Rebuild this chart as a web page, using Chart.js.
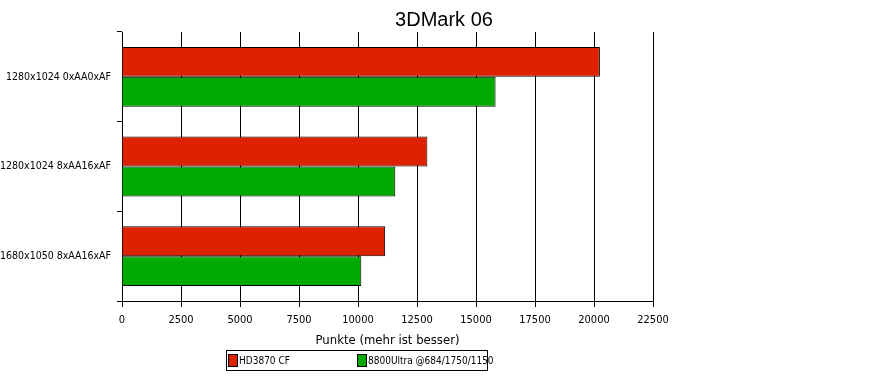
<!DOCTYPE html>
<html>
<head>
<meta charset="utf-8">
<script src="https://cdn.jsdelivr.net/npm/chart.js@4"></script>
<style>
  body { margin: 0; background: #fff; }
  #wrap { width: 888px; height: 376px; position: relative; }
</style>
</head>
<body>
<div id="wrap"><canvas id="myChart" width="888" height="376"></canvas></div>
<script>
const categories = ['1280x1024 0xAA0xAF', '1280x1024 8xAA16xAF', '1680x1050 8xAA16xAF'];
const seriesNames = ['HD3870 CF', '8800Ultra @684/1750/1150'];
const hdValues = [20250, 12940, 11150];
const ultraValues = [15830, 11580, 10140];
const xTicks = [0, 2500, 5000, 7500, 10000, 12500, 15000, 17500, 20000, 22500];
const chartTitle = '3DMark 06';

const narrow = "'DejaVu Sans Condensed', 'Liberation Sans Narrow', Arial, sans-serif";

// title centred on the whole canvas, not on the plot
const canvasTitle = {
  id: 'canvasTitle',
  afterDraw(chart) {
    const c = chart.ctx;
    c.save();
    c.font = "20px Arial, 'Liberation Sans', sans-serif";
    c.fillStyle = '#000';
    c.textAlign = 'center';
    c.textBaseline = 'middle';
    c.fillText(chartTitle, chart.width / 2, 20);
    c.restore();
  }
};

// legend box drawn under the axis title, like the original
const boxLegend = {
  id: 'boxLegend',
  afterDraw(chart) {
    const c = chart.ctx;
    c.save();
    c.strokeStyle = '#000';
    c.lineWidth = 1;
    c.strokeRect(226.5, 350.5, 261, 20);
    c.font = '10px ' + narrow;
    c.textBaseline = 'middle';
    const xs = [228, 357];
    chart.data.datasets.forEach((ds, i) => {
      c.fillStyle = ds.backgroundColor;
      c.fillRect(xs[i], 354, 9, 13);
      c.strokeRect(xs[i] + 0.5, 354.5, 9, 12);
      c.fillStyle = '#000';
      c.fillText(ds.label, xs[i] + 11, 361);
    });
    c.restore();
  }
};

new Chart(document.getElementById('myChart'), {
  type: 'bar',
  data: {
    labels: categories,
    datasets: [{
      label: seriesNames[0],
      data: hdValues,
      backgroundColor: '#dd2200',
      borderColor: '#000',
      borderWidth: 1,
      categoryPercentage: 0.667,
      barPercentage: 1
    }, {
      label: seriesNames[1],
      data: ultraValues,
      backgroundColor: '#00aa00',
      borderColor: '#000',
      borderWidth: 1,
      categoryPercentage: 0.667,
      barPercentage: 1
    }]
  },
  options: {
    indexAxis: 'y',
    responsive: false,
    animation: false,
    layout: { padding: { left: 0, right: 235, top: 32, bottom: 28 } },
    plugins: {
      legend: { display: false },
      tooltip: { enabled: false },
      title: { display: false }
    },
    scales: {
      x: {
        min: 0,
        max: 22500,
        afterBuildTicks: (axis) => { axis.ticks = xTicks.map(v => ({ value: v })); },
        afterFit: (axis) => { axis.height = 47; },
        border: { display: true, color: '#000', width: 1 },
        grid: { color: '#000', lineWidth: 1, tickLength: 6, drawOnChartArea: true },
        ticks: {
          color: '#000', padding: 7, maxRotation: 0, autoSkip: false,
          font: { family: narrow, size: 11 },
          callback: (v) => String(v)
        },
        title: {
          display: true,
          text: 'Punkte (mehr ist besser)',
          color: '#000',
          padding: { top: 0, bottom: 0 },
          font: { family: narrow, size: 13 }
        }
      },
      y: {
        afterFit: (axis) => { axis.width = 122; },
        border: { display: true, color: '#000', width: 1 },
        grid: { color: '#000', lineWidth: 1, tickLength: 5, drawOnChartArea: false, offset: true },
        ticks: { color: '#000', padding: 6, font: { family: narrow, size: 10.5 } }
      }
    }
  },
  plugins: [canvasTitle, boxLegend]
});
</script>
</body>
</html>
